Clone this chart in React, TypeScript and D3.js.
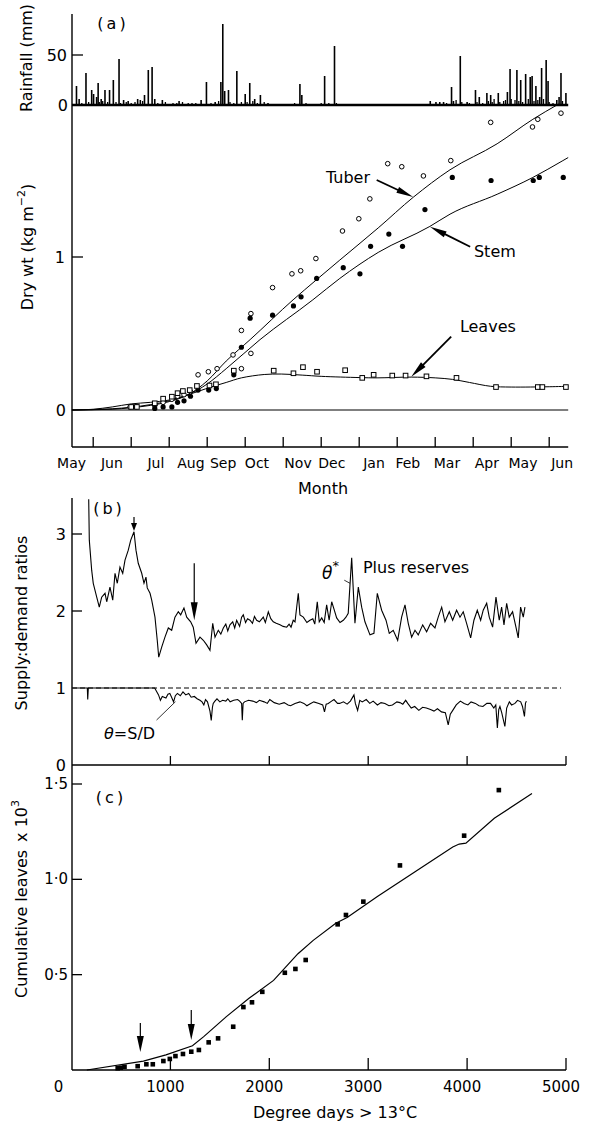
import React from "react";
import * as d3 from "d3";

// ---------- Panel (a) data: x = months since 1 May ----------
const rainMonth = [0.56,0.63,0.81,0.96,1.01,1.09,1.13,1.21,1.31,1.43,1.53,1.68,1.80,1.92,2.17,2.24,2.35,2.45,2.55,2.62,2.82,3.26,3.84,3.98,4.21,4.36,4.41,4.46,4.56,4.78,5.00,5.12,5.25,5.40,5.60,6.44,6.49,7.09,7.35,9.87,10.02,10.12,10.22,10.43,10.48,10.66,10.84,11.06,11.16,11.36,11.46,11.66,11.90,11.97,12.15,12.25,12.38,12.50,12.55,12.65,12.75,12.80,12.92,12.97,13.20,13.26,13.31,13.44];
const rainMm = [19,6,32,15,11,8,22,6,15,15,25,46,5,4,6,5,10,35,38,6,5,4,5,23,3,23,81,14,15,34,11,22,6,10,2,21,10,29,59,4,3,3,3,18,4,49,3,15,8,12,10,12,13,36,35,25,31,28,29,19,8,37,45,24,5,8,32,12];
const drizzle: [number, number][] = [[0.70,2],[0.88,3],[1.16,3],[1.25,4],[1.38,3],[1.60,3],[1.72,2],[1.87,3],[2.0,2],[2.1,3],[2.3,4],[2.7,2],[2.9,3],[3.1,2],[3.2,2],[3.35,3],[3.5,2],[3.6,2],[3.7,2],[4.1,2],[4.3,4],[4.6,3],[4.7,2],[4.9,3],[5.05,3],[5.2,4],[5.32,2],[5.5,3],[6.3,2],[6.6,2],[7.0,2],[7.2,2],[7.4,2],[10.3,2],[10.55,5],[10.7,3],[10.9,2],[11.1,3],[11.25,2],[11.4,4],[11.5,3],[11.55,6],[11.7,3],[11.8,4],[11.85,5],[12.0,6],[12.1,5],[12.2,4],[12.3,3],[12.45,6],[12.6,4],[12.7,5],[12.85,6],[13.0,3],[13.1,2],[13.35,4]];

const tuberObs: [number, number][] = [[1.97,0.02],[2.13,0.02],[2.62,0.03],[2.84,0.05],[3.07,0.07],[3.22,0.09],[3.39,0.10],[3.56,0.12],[3.76,0.23],[4.03,0.25],[4.26,0.27],[4.68,0.36],[4.90,0.52],[4.90,0.27],[5.15,0.63],[5.15,0.37],[5.72,0.80],[6.23,0.89],[6.46,0.91],[6.86,0.99],[7.56,1.17],[7.99,1.25],[8.28,1.38],[8.75,1.61],[9.12,1.59],[9.69,1.53],[10.41,1.63],[11.46,1.88],[12.56,1.85],[12.70,1.90],[13.31,1.94]];
const stemObs: [number, number][] = [[2.62,0.01],[2.84,0.02],[3.07,0.02],[3.22,0.05],[3.39,0.06],[3.56,0.09],[3.76,0.13],[4.04,0.13],[4.24,0.14],[4.70,0.23],[4.90,0.41],[5.13,0.60],[5.72,0.62],[6.27,0.68],[6.47,0.74],[6.88,0.86],[7.58,0.93],[8.02,0.89],[8.30,1.07],[8.78,1.15],[9.14,1.07],[9.73,1.31],[10.45,1.52],[11.47,1.50],[12.58,1.50],[12.74,1.52],[13.37,1.52]];
const leafObs: [number, number][] = [[2.0,0.02],[2.15,0.02],[2.62,0.044],[2.84,0.074],[3.07,0.087],[3.22,0.11],[3.36,0.124],[3.54,0.13],[3.73,0.157],[4.06,0.16],[4.23,0.168],[4.70,0.257],[5.75,0.257],[6.27,0.24],[6.52,0.28],[6.89,0.25],[7.63,0.26],[8.08,0.21],[8.38,0.23],[8.87,0.225],[9.22,0.225],[9.77,0.22],[10.56,0.21],[11.6,0.15],[12.7,0.15],[12.82,0.15],[13.44,0.15]];

const tuberCurve: [number, number][] = [[0.44,0],[1.5,0.005],[2.0,0.015],[2.5,0.03],[3.0,0.055],[3.5,0.1],[4.0,0.19],[4.5,0.32],[5.13,0.46],[6.26,0.72],[6.87,0.85],[7.49,0.98],[8.5,1.19],[9.42,1.39],[10.39,1.57],[11.63,1.74],[12.57,1.90],[13.25,2.0]];
const stemCurve: [number, number][] = [[0.44,0],[1.5,0.008],[2.0,0.018],[2.5,0.035],[3.0,0.06],[3.5,0.1],[4.0,0.17],[4.5,0.27],[5.39,0.46],[6.78,0.72],[7.49,0.86],[8.5,1.03],[9.86,1.20],[10.39,1.28],[11.63,1.41],[12.57,1.52],[13.36,1.63],[13.5,1.65]];
const leafCurve: [number, number][] = [[0.44,0],[1.0,0.005],[1.5,0.02],[2.0,0.04],[2.5,0.05],[3.0,0.065],[3.5,0.1],[4.1,0.15],[4.5,0.18],[4.9,0.21],[5.5,0.232],[5.95,0.235],[6.5,0.228],[7.0,0.22],[8.0,0.212],[8.47,0.21],[9.37,0.215],[10.0,0.21],[10.46,0.2],[10.9,0.18],[11.46,0.155],[12.0,0.15],[13.0,0.152],[13.5,0.155]];

const monthLabels = ["May","Jun","Jul","Aug","Sep","Oct","Nov","Dec","Jan","Feb","Mar","Apr","May","Jun"];
const monthLabelPos = [0.43,1.49,2.65,3.57,4.42,5.31,6.39,7.28,8.39,9.28,10.31,11.36,12.31,13.34];
const monthTicks = [1,2,3,4,5,6,7,8,9,10,11,12,13];

// ---------- Panel (b) data: x = degree days ----------
const thetaStar: [number, number][] = [[174,3.45],[180,2.92],[204,2.53],[220,2.36],[255,2.18],[281,2.05],[305,2.18],[339,2.23],[356,2.12],[389,2.31],[417,2.14],[440,2.49],[463,2.36],[490,2.57],[518,2.49],[541,2.66],[574,2.79],[599,2.92],[632,3.03],[652,2.79],[675,2.62],[710,2.49],[733,2.36],[753,2.44],[766,2.30],[794,2.23],[811,2.14],[844,1.92],[867,1.62],[882,1.40],[912,1.53],[945,1.66],[979,1.78],[1013,1.75],[1046,1.92],[1080,1.99],[1104,1.95],[1137,2.04],[1165,1.92],[1205,1.86],[1231,1.79],[1259,1.58],[1299,1.66],[1333,1.62],[1367,1.56],[1400,1.49],[1428,1.84],[1451,1.66],[1484,1.75],[1510,1.70],[1535,1.78],[1560,1.83],[1580,1.74],[1602,1.82],[1630,1.86],[1650,1.78],[1670,1.88],[1700,1.80],[1720,1.92],[1737,1.95],[1760,1.85],[1780,1.90],[1805,1.88],[1830,1.84],[1850,1.93],[1872,1.88],[1900,1.86],[1939,1.92],[1960,1.85],[1990,1.99],[2015,1.90],[2040,1.86],[2070,1.84],[2108,1.82],[2140,1.80],[2176,1.79],[2200,1.83],[2220,1.79],[2242,1.88],[2260,1.86],[2293,2.23],[2310,1.95],[2344,1.92],[2380,1.85],[2411,1.88],[2440,1.90],[2460,1.83],[2485,2.12],[2505,1.86],[2530,1.91],[2555,1.85],[2580,2.08],[2605,1.88],[2631,2.12],[2655,2.02],[2681,1.91],[2715,1.85],[2748,1.88],[2775,1.92],[2798,1.97],[2833,2.69],[2866,1.84],[2900,2.31],[2934,2.05],[2967,1.86],[3018,1.69],[3058,1.71],[3092,2.23],[3136,2.01],[3180,1.88],[3213,1.71],[3253,1.75],[3298,1.62],[3338,1.92],[3372,2.08],[3405,1.84],[3439,1.66],[3473,1.75],[3506,1.69],[3551,1.82],[3591,1.73],[3631,1.84],[3675,1.78],[3708,1.92],[3743,2.05],[3776,1.86],[3820,1.99],[3854,1.88],[3894,2.01],[3928,1.92],[3961,1.99],[3995,1.84],[4036,1.65],[4069,1.88],[4103,2.01],[4137,1.88],[4163,2.01],[4198,2.10],[4224,1.92],[4258,1.79],[4292,2.18],[4325,1.88],[4349,2.05],[4373,1.82],[4400,2.10],[4426,1.92],[4460,1.99],[4494,1.79],[4517,1.65],[4541,2.05],[4568,1.92],[4585,2.05]];
const thetaSD: [number, number][] = [[10,1.0],[160,1.0],[164,0.85],[170,1.0],[841,1.0],[880,0.91],[899,0.84],[918,0.89],[955,0.87],[975,0.92],[994,0.93],[1012,0.88],[1032,0.82],[1050,0.90],[1071,0.93],[1100,0.90],[1127,0.95],[1155,0.91],[1185,0.93],[1210,0.88],[1242,0.89],[1270,0.86],[1299,0.84],[1320,0.82],[1338,0.78],[1355,0.85],[1375,0.82],[1400,0.70],[1413,0.58],[1425,0.75],[1433,0.80],[1450,0.83],[1471,0.86],[1500,0.82],[1528,0.84],[1560,0.83],[1580,0.86],[1604,0.82],[1640,0.84],[1680,0.85],[1700,0.83],[1720,0.80],[1727,0.58],[1735,0.80],[1749,0.82],[1790,0.84],[1833,0.83],[1870,0.81],[1900,0.84],[1948,0.82],[1980,0.80],[2005,0.85],[2050,0.81],[2100,0.79],[2150,0.81],[2190,0.78],[2215,0.77],[2260,0.80],[2310,0.82],[2350,0.80],[2380,0.77],[2405,0.79],[2450,0.82],[2501,0.80],[2540,0.78],[2558,0.69],[2575,0.79],[2596,0.80],[2630,0.83],[2654,0.85],[2690,0.80],[2711,0.80],[2750,0.82],[2787,0.79],[2820,0.83],[2856,0.91],[2870,0.80],[2893,0.71],[2915,0.84],[2940,0.82],[2980,0.85],[3016,0.80],[3050,0.83],[3093,0.78],[3130,0.81],[3169,0.80],[3210,0.77],[3245,0.78],[3290,0.82],[3321,0.81],[3350,0.79],[3379,0.84],[3400,0.80],[3435,0.74],[3470,0.76],[3512,0.71],[3550,0.75],[3588,0.74],[3630,0.72],[3665,0.70],[3700,0.73],[3741,0.69],[3780,0.68],[3809,0.52],[3830,0.66],[3855,0.71],[3890,0.78],[3932,0.83],[3970,0.80],[4008,0.78],[4040,0.82],[4084,0.80],[4120,0.77],[4160,0.76],[4200,0.80],[4237,0.80],[4270,0.74],[4290,0.78],[4306,0.48],[4320,0.72],[4332,0.76],[4350,0.68],[4382,0.50],[4400,0.74],[4427,0.82],[4450,0.78],[4484,0.80],[4510,0.84],[4542,0.82],[4560,0.76],[4580,0.63],[4590,0.80],[4599,0.83]];

// ---------- Panel (c) data ----------
const leavesModel: [number, number][] = [[155,0],[727,0.047],[955,0.079],[1223,0.127],[1337,0.175],[1566,0.28],[1795,0.376],[2043,0.47],[2290,0.61],[2444,0.68],[2672,0.77],[2787,0.80],[3093,0.91],[3474,1.04],[3855,1.17],[3920,1.185],[3988,1.19],[4275,1.32],[4656,1.45]];
const leavesObs: [number, number][] = [[467,0.009],[498,0.012],[536,0.017],[669,0.02],[757,0.03],[822,0.03],[929,0.047],[994,0.058],[1051,0.073],[1127,0.084],[1211,0.096],[1288,0.105],[1387,0.145],[1482,0.166],[1635,0.227],[1738,0.33],[1825,0.355],[1929,0.41],[2157,0.51],[2264,0.53],[2368,0.577],[2691,0.764],[2775,0.813],[2951,0.883],[3321,1.073],[3970,1.229],[4321,1.468]];
const ddTicks = [0, 1000, 2000, 3000, 4000, 5000];
const cTicks = [0.5, 1.0, 1.5];
const bTicks = [0, 1, 2, 3];

const FONT = "'DejaVu Sans', sans-serif";

function Arrow({ x1, y1, x2, y2, hl = 14, hw = 3.5, sw = 1.3 }: any) {
  const dx = x2 - x1, dy = y2 - y1;
  const len = Math.hypot(dx, dy);
  const ux = dx / len, uy = dy / len;
  const bx = x2 - ux * hl, by = y2 - uy * hl;
  const px = -uy * hw, py = ux * hw;
  return (
    <g>
      <line x1={x1} y1={y1} x2={bx + ux * 2} y2={by + uy * 2} stroke="#000" strokeWidth={sw} />
      <polygon points={`${x2},${y2} ${bx + px},${by + py} ${bx - px},${by - py}`} fill="#000" />
    </g>
  );
}

export default function App() {
  const AX = 72;
  const xM = d3.scaleLinear().domain([0, 13.5]).range([55.2, 568.2]);
  const yR = d3.scaleLinear().domain([0, 50]).range([105, 55]);
  const yA = d3.scaleLinear().domain([0, 1]).range([410, 257]);
  const xD = d3.scaleLinear().domain([0, 5000]).range([71.5, 566]);
  const yB = d3.scaleLinear().domain([0, 3]).range([765, 534]);
  const yC = d3.scaleLinear().domain([0, 1.5]).range([1070, 784]);

  const lineA = d3.line<[number, number]>().x(d => xM(d[0])).y(d => yA(d[1])).curve(d3.curveMonotoneX);
  const lineAL = d3.line<[number, number]>().x(d => xM(d[0])).y(d => yA(d[1])).curve(d3.curveCatmullRom);
  const lineB = d3.line<[number, number]>().x(d => xD(d[0])).y(d => yB(d[1]));
  const lineC = d3.line<[number, number]>().x(d => xD(d[0])).y(d => yC(d[1]));

  const xEndA = xM(13.5);
  const xEndD = xD(5000);
  const tickLbl = { fontFamily: FONT, fontSize: 16, textAnchor: "end" as const, dominantBaseline: "central" as const };

  return (
    <svg width={589} height={1125} style={{ position: "absolute", left: 0, top: 0, display: "block", background: "#fff" }}>
      <rect x={0} y={0} width={589} height={1125} fill="#fff" />
      {/* ===== Panel (a) ===== */}
      <line x1={AX} y1={14} x2={AX} y2={447} stroke="#000" strokeWidth={1.4} />
      {rainMonth.map((m, i) => (
        <line key={"r" + i} x1={xM(m)} x2={xM(m)} y1={yR(0)} y2={yR(rainMm[i])} stroke="#000" strokeWidth={1.6} />
      ))}
      {drizzle.map((d, i) => (
        <line key={"dz" + i} x1={xM(d[0])} x2={xM(d[0])} y1={yR(0)} y2={yR(d[1])} stroke="#000" strokeWidth={1.3} />
      ))}
      <line x1={AX} y1={yR(0)} x2={xEndA} y2={yR(0)} stroke="#000" strokeWidth={2.4} />
      <line x1={AX} y1={yR(50)} x2={AX + 11} y2={yR(50)} stroke="#000" strokeWidth={1.3} />
      <text x={67} y={yR(50)} {...tickLbl}>50</text>
      <text x={68} y={yR(0)} {...tickLbl}>0</text>
      <text x={113} y={23} fontFamily={FONT} fontSize={16} textAnchor="middle" dominantBaseline="central" letterSpacing={3}>(a)</text>
      <text transform={`translate(26,58) rotate(-90)`} fontFamily={FONT} fontSize={16} textAnchor="middle" dominantBaseline="central">Rainfall (mm)</text>

      <line x1={AX} y1={yA(1)} x2={AX + 11} y2={yA(1)} stroke="#000" strokeWidth={1.3} />
      <text x={65} y={yA(1)} {...tickLbl}>1</text>
      <text x={66} y={yA(0)} {...tickLbl}>0</text>
      <line x1={AX} y1={yA(0)} x2={xEndA} y2={yA(0)} stroke="#000" strokeWidth={1.2} />
      <text transform={`translate(27,247) rotate(-90)`} fontFamily={FONT} fontSize={16} textAnchor="middle" dominantBaseline="central">
        Dry wt (kg m<tspan dy={-6} fontSize={11}>−2</tspan><tspan dy={6}>)</tspan>
      </text>

      <line x1={AX} y1={447} x2={xEndA} y2={447} stroke="#000" strokeWidth={1.4} />
      {monthTicks.map(m => (
        <line key={"mt" + m} x1={xM(m)} x2={xM(m)} y1={447} y2={437} stroke="#000" strokeWidth={1.3} />
      ))}
      {monthLabels.map((lab, i) => (
        <text key={"ml" + i} x={xM(monthLabelPos[i])} y={463} fontFamily={FONT} fontSize={14} textAnchor="middle" dominantBaseline="central">{lab}</text>
      ))}
      <text x={323} y={488} fontFamily={FONT} fontSize={16} textAnchor="middle" dominantBaseline="central">Month</text>

      <path d={lineA(tuberCurve) || ""} fill="none" stroke="#000" strokeWidth={1} />
      <path d={lineA(stemCurve) || ""} fill="none" stroke="#000" strokeWidth={1} />
      <path d={lineAL(leafCurve) || ""} fill="none" stroke="#000" strokeWidth={1} />
      {tuberObs.map((d, i) => (
        <circle key={"to" + i} cx={xM(d[0])} cy={yA(d[1])} r={2.3} fill="#fff" stroke="#000" strokeWidth={1} />
      ))}
      {stemObs.map((d, i) => (
        <circle key={"so" + i} cx={xM(d[0])} cy={yA(d[1])} r={2.6} fill="#000" />
      ))}
      {leafObs.map((d, i) => (
        <rect key={"lo" + i} x={xM(d[0]) - 2.3} y={yA(d[1]) - 2.3} width={4.6} height={4.6} fill="#fff" stroke="#000" strokeWidth={1} />
      ))}
      <text x={xM(7.705)} y={yA(1.484)} fontFamily={FONT} fontSize={16} textAnchor="middle">Tuber</text>
      <Arrow x1={xM(8.46)} y1={yA(1.503)} x2={xM(9.42)} y2={yA(1.392)} hl={17} hw={3.2} sw={1.8} />
      <text x={xM(11.02)} y={yA(0.997)} fontFamily={FONT} fontSize={16}>Stem</text>
      <Arrow x1={xM(10.92)} y1={yA(1.067)} x2={xM(9.863)} y2={yA(1.198)} hl={17} hw={3.2} sw={1.8} />
      <text x={xM(10.65)} y={yA(0.51)} fontFamily={FONT} fontSize={16}>Leaves</text>
      <Arrow x1={xM(10.42)} y1={yA(0.479)} x2={xM(9.37)} y2={yA(0.218)} hl={17} hw={3.2} sw={1.8} />

      {/* ===== Panel (b) ===== */}
      <line x1={AX} y1={498} x2={AX} y2={1070} stroke="#000" strokeWidth={1.4} />
      {bTicks.filter(t => t >= 2).map(t => (
        <line key={"bt" + t} x1={AX} x2={AX + 10} y1={yB(t)} y2={yB(t)} stroke="#000" strokeWidth={1.3} />
      ))}
      {bTicks.map(t => (
        <text key={"bl" + t} x={66} y={yB(t)} {...tickLbl}>{t}</text>
      ))}
      <text x={109} y={508} fontFamily={FONT} fontSize={16} textAnchor="middle" dominantBaseline="central" letterSpacing={3}>(b)</text>
      <text transform={`translate(21,623) rotate(-90)`} fontFamily={FONT} fontSize={16} textAnchor="middle" dominantBaseline="central">Supply:demand ratios</text>
      <line x1={AX} y1={yB(0)} x2={xEndD} y2={yB(0)} stroke="#000" strokeWidth={1.4} />
      {ddTicks.filter(t => t > 0).map(t => (
        <line key={"bx" + t} x1={xD(t)} x2={xD(t)} y1={yB(0)} y2={yB(0) - 9} stroke="#000" strokeWidth={1.3} />
      ))}
      <line x1={AX} y1={yB(1)} x2={xD(4950)} y2={yB(1)} stroke="#000" strokeWidth={1} strokeDasharray="5,3" />
      <path d={lineB(thetaSD) || ""} fill="none" stroke="#000" strokeWidth={1.1} />
      <path d={lineB(thetaStar) || ""} fill="none" stroke="#000" strokeWidth={1.1} />
      <Arrow x1={xD(632)} y1={yB(3.22)} x2={xD(632)} y2={yB(3.04)} hl={8} hw={3} sw={1.2} />
      <Arrow x1={xD(1241)} y1={yB(2.62)} x2={xD(1241)} y2={yB(1.88)} hl={18} hw={3.5} sw={1.2} />
      <text x={xD(2533)} y={yB(2.42)} fontFamily={FONT} fontSize={17} fontStyle="italic">θ</text>
      <text x={xD(2640)} y={yB(2.53)} fontFamily={FONT} fontSize={13}>*</text>
      <line x1={xD(2758)} y1={yB(2.40)} x2={xD(2816)} y2={yB(2.36)} stroke="#000" strokeWidth={0.8} />
      <text x={xD(2947)} y={yB(2.49)} fontFamily={FONT} fontSize={16}>Plus reserves</text>
      <text x={xD(329)} y={yB(0.34)} fontFamily={FONT} fontSize={16}>
        <tspan fontStyle="italic">θ</tspan>=S/D
      </text>
      <line x1={xD(860)} y1={yB(0.584)} x2={xD(1051)} y2={yB(0.822)} stroke="#000" strokeWidth={0.8} />

      {/* ===== Panel (c) ===== */}
      {cTicks.map(t => (
        <line key={"ct" + t} x1={AX} x2={AX + 10} y1={yC(t)} y2={yC(t)} stroke="#000" strokeWidth={1.3} />
      ))}
      {cTicks.map(t => (
        <text key={"cl" + t} x={68} y={yC(t)} {...tickLbl} fontSize={15}>{t.toFixed(1).replace(".", "·")}</text>
      ))}
      <text x={111} y={797} fontFamily={FONT} fontSize={16} textAnchor="middle" dominantBaseline="central" letterSpacing={3}>(c)</text>
      <text transform={`translate(21,899) rotate(-90)`} fontFamily={FONT} fontSize={16} textAnchor="middle" dominantBaseline="central">
        Cumulative leaves<tspan dx={8}>x 10</tspan><tspan dy={-6} fontSize={11}>3</tspan>
      </text>
      <line x1={AX} y1={yC(0)} x2={xEndD} y2={yC(0)} stroke="#000" strokeWidth={1.4} />
      {ddTicks.filter(t => t > 0).map(t => (
        <line key={"cx" + t} x1={xD(t)} x2={xD(t)} y1={yC(0)} y2={yC(0) - 12} stroke="#000" strokeWidth={1.3} />
      ))}
      {ddTicks.map(t => (
        <text key={"cxl" + t} x={t === 0 ? xD(t) - 13 : xD(t) - 5} y={1087} fontFamily={FONT} fontSize={15} textAnchor="middle" dominantBaseline="central">{t}</text>
      ))}
      <text x={335} y={1112} fontFamily={FONT} fontSize={16} textAnchor="middle" dominantBaseline="central">Degree days &gt; 13°C</text>
      <path d={lineC(leavesModel) || ""} fill="none" stroke="#000" strokeWidth={1.2} />
      {leavesObs.map((d, i) => (
        <rect key={"co" + i} x={xD(d[0]) - 2.3} y={yC(d[1]) - 2.3} width={4.6} height={4.6} fill="#000" />
      ))}
      <Arrow x1={xD(696)} y1={yC(0.246)} x2={xD(696)} y2={yC(0.094)} hl={16} hw={3.5} sw={1.2} />
      <Arrow x1={xD(1211)} y1={yC(0.315)} x2={xD(1211)} y2={yC(0.157)} hl={16} hw={3.5} sw={1.2} />
    </svg>
  );
}
